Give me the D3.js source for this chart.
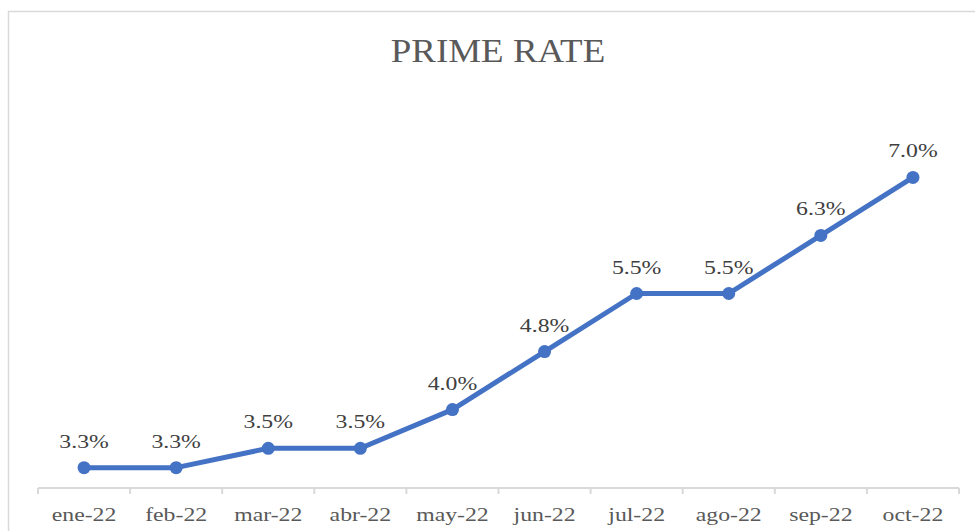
<!DOCTYPE html>
<html>
<head>
<meta charset="utf-8">
<script src="https://cdn.jsdelivr.net/npm/d3@7"></script>
<style>
  body { margin: 0; background: #fff; }
  svg { display: block; }
</style>
</head>
<body>
<script>
// chart data
var months = ["ene-22","feb-22","mar-22","abr-22","may-22","jun-22","jul-22","ago-22","sep-22","oct-22"];
var rates = [3.25, 3.25, 3.5, 3.5, 4.0, 4.75, 5.5, 5.5, 6.25, 7.0];
var yDomain = [3, 8];
var title = "PRIME RATE";

var width = 975, height = 531;
var font = "'Liberation Serif', 'Times New Roman', serif";
var stretch = 1.25; // text in the reference is wider than normal

var svg = d3.select("body").append("svg")
  .attr("width", width)
  .attr("height", height);

// chart border (runs off the right/bottom edges)
svg.append("rect")
  .attr("x", 8.5).attr("y", 11.5)
  .attr("width", 1000).attr("height", 600)
  .attr("fill", "none")
  .attr("stroke", "#d9d9d9")
  .attr("stroke-width", 1.5);

var x = d3.scaleBand().domain(months).range([38, 959]);
var y = d3.scaleLinear().domain(yDomain).range([487, 100]);

// title
svg.append("text")
  .attr("transform", "translate(498,62) scale(1.12,1)")
  .attr("text-anchor", "middle")
  .style("font-family", font)
  .style("font-size", "33px")
  .style("fill", "#595959")
  .text(title);

// x axis
var axisY = y(yDomain[0]) + 1;
var xAxis = d3.axisBottom(x).tickSize(0).tickPadding(0);
var gx = svg.append("g")
  .attr("transform", "translate(0," + axisY + ")")
  .call(xAxis);
gx.select(".domain").remove();
gx.selectAll(".tick line").remove();
gx.selectAll(".tick text")
  .attr("y", 0).attr("dy", null)
  .attr("transform", "translate(0,33) scale(" + stretch + ",1)")
  .style("font-family", font)
  .style("font-size", "19px")
  .style("fill", "#595959");

gx.append("line")
  .attr("x1", x.range()[0]).attr("x2", x.range()[1])
  .attr("stroke", "#d9d9d9").attr("stroke-width", 2);

// boundary ticks between categories
var bounds = months.map(function(m) { return x(m); }).concat([x.range()[1]]);
gx.selectAll("line.sep").data(bounds).enter().append("line")
  .attr("class", "sep")
  .attr("x1", d => d).attr("x2", d => d)
  .attr("y1", 0).attr("y2", 6)
  .attr("stroke", "#d9d9d9").attr("stroke-width", 2);

// line
var pts = months.map(function(m, i) { return {m: m, v: rates[i]}; });
var line = d3.line()
  .x(d => x(d.m) + x.bandwidth() / 2)
  .y(d => y(d.v));

svg.append("path")
  .datum(pts)
  .attr("d", line)
  .attr("fill", "none")
  .attr("stroke", "#4472C4")
  .attr("stroke-width", 5)
  .attr("stroke-linejoin", "round");

svg.selectAll("circle.pt").data(pts).enter().append("circle")
  .attr("class", "pt")
  .attr("cx", d => x(d.m) + x.bandwidth() / 2)
  .attr("cy", d => y(d.v))
  .attr("r", 6.5)
  .attr("fill", "#4472C4");

// data labels
svg.selectAll("text.lbl").data(pts).enter().append("text")
  .attr("class", "lbl")
  .attr("transform", d => "translate(" + (x(d.m) + x.bandwidth() / 2) + "," + (y(d.v) - 20) + ") scale(" + stretch + ",1)")
  .attr("text-anchor", "middle")
  .style("font-family", font)
  .style("font-size", "19px")
  .style("fill", "#404040")
  .text(d => d.v.toFixed(1) + "%");
</script>
</body>
</html>
